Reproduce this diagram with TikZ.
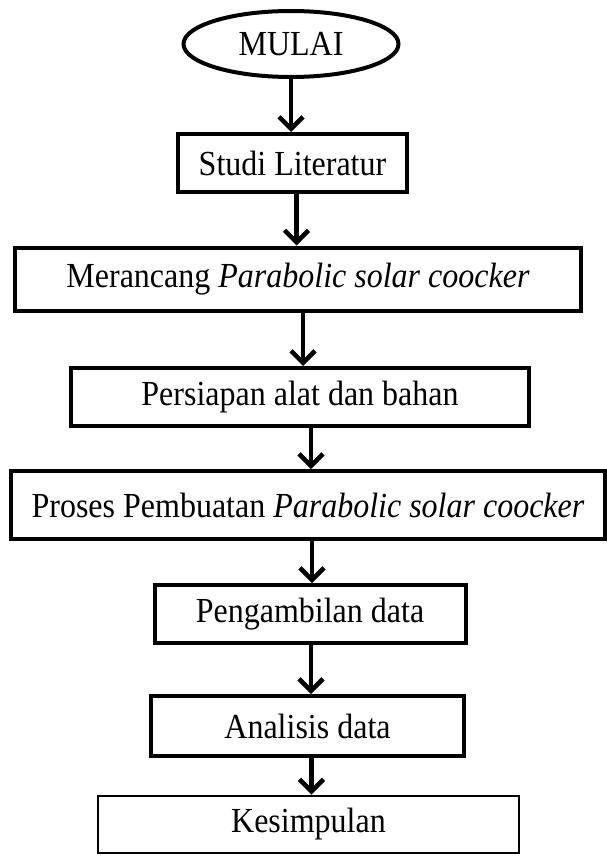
\documentclass[tikz,border=0pt]{standalone}
\usepackage{fontspec}
\usepackage{graphicx}
\setmainfont{Liberation Serif}
\usetikzlibrary{shapes.geometric,arrows.meta}
\newcommand{\talltext}[1]{\scalebox{1}[1.1]{#1}}
\begin{document}
\begin{tikzpicture}[x=1pt,y=-1pt,
  stepbox/.style={draw, line width=4pt, font=\fontsize{32}{36}\selectfont, inner sep=0pt},
  arr/.style={line width=4.5pt, -{Straight Barb[length=12pt,width=24pt,line width=4.5pt]}}]
\useasboundingbox (0,0) rectangle (606,856);
\node[draw, ellipse, line width=4pt, minimum width=215pt, minimum height=66pt, font=\fontsize{32}{36}\selectfont, inner sep=0pt] (mulai) at (291,44) {\talltext{MULAI}};
\node[stepbox, minimum width=229pt, minimum height=58pt] (studi) at (292.5,163) {\talltext{Studi Literatur}};
\node[stepbox, minimum width=566pt, minimum height=63pt] (merancang) at (298,279) {\talltext{Merancang \textit{Parabolic solar coocker}}};
\node[stepbox, minimum width=458pt, minimum height=58pt] (persiapan) at (300,397) {\talltext{Persiapan alat dan bahan}};
\node[stepbox, minimum width=594pt, minimum height=68pt] (proses) at (308,505) {\talltext{Proses Pembuatan \textit{Parabolic solar coocker}}};
\node[stepbox, minimum width=311pt, minimum height=58pt] (ambil) at (310,614) {\talltext{Pengambilan data}};
\node[stepbox, minimum width=313pt, minimum height=60pt] (analisis) at (307.5,726) {\talltext{Analisis data}};
\node[stepbox, line width=2pt, minimum width=421pt, minimum height=57pt] (simpul) at (308.5,824) {\talltext{Kesimpulan}};
\draw[arr] (mulai.south) -- (mulai.south |- studi.north);
\draw[arr] ([xshift=4pt]studi.south) -- ([xshift=4pt]studi.south |- merancang.north);
\draw[arr] ([xshift=5pt]merancang.south) -- ([xshift=5pt]merancang.south |- persiapan.north);
\draw[arr] ([xshift=11pt]persiapan.south) -- ([xshift=11pt]persiapan.south |- proses.north);
\draw[arr] ([xshift=4pt]proses.south) -- ([xshift=4pt]proses.south |- ambil.north);
\draw[arr] ([xshift=1pt]ambil.south) -- ([xshift=1pt]ambil.south |- analisis.north);
\draw[arr] ([xshift=4pt]analisis.south) -- ([xshift=4pt]analisis.south |- simpul.north);
\end{tikzpicture}
\end{document}
